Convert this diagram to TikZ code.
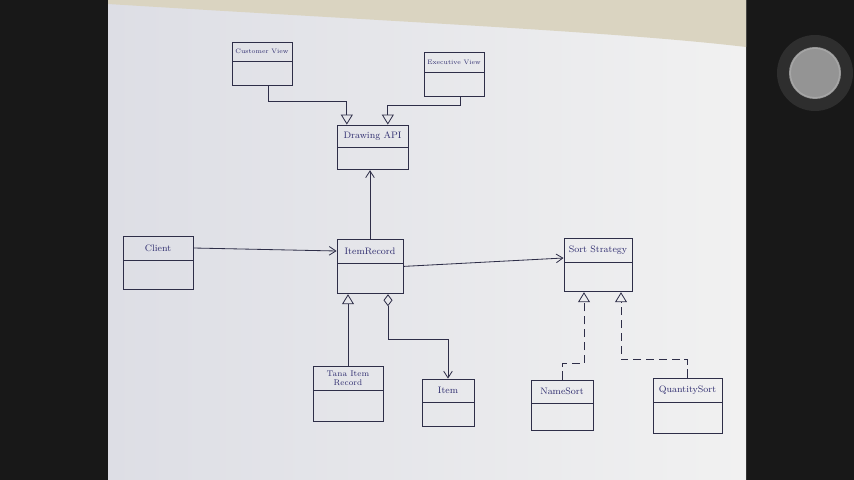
\documentclass[tikz,border=0pt]{standalone}
\usepackage{xcolor}
\usetikzlibrary{arrows.meta,positioning}

\definecolor{ink}{RGB}{48,46,112}
\definecolor{pen}{RGB}{46,46,72}
\definecolor{paperL}{RGB}{221,222,229}
\definecolor{paperR}{RGB}{241,241,241}
\definecolor{tape}{RGB}{218,212,193}
\definecolor{frame}{RGB}{24,24,24}

\begin{document}
\begin{tikzpicture}[
    x=0.03cm, y=-0.03cm,
    head/.style={rectangle, draw=pen, line width=0.7pt, inner sep=1pt, minimum height=0.72cm, text=ink, font=\footnotesize},
    body/.style={rectangle, draw=pen, line width=0.7pt, minimum height=0.87cm},
    assoc/.style={arrows={-Straight Barb[length=0.2cm,width=0.26cm]}, draw=pen, line width=0.7pt},
    inherit/.style={arrows={-Triangle[open,length=0.3cm,width=0.36cm]}, draw=pen, line width=0.7pt},
    realize/.style={inherit, dash pattern=on 7pt off 4pt},
    aggr/.style={arrows={Diamond[open,length=0.36cm,width=0.27cm]-Straight Barb[length=0.2cm,width=0.26cm]}, draw=pen, line width=0.7pt}
]
    % photo frame and paper
    \fill[frame] (0,0) rectangle (854,480);
    \shade[left color=paperL, right color=paperR] (108,0) rectangle (746,480);
    \fill[tape] (108,0) -- (746,0) -- (746,47) .. controls (620,32) and (400,22) .. (108,4) -- cycle;
    \fill[black!82] (815,73) circle[radius=1.14cm];
    \fill[black!42] (815,73) circle[radius=0.78cm];
    \draw[black!35, line width=1pt] (815,73) circle[radius=0.74cm];

    % classes
    \node[head, minimum width=1.8cm, minimum height=0.57cm, font=\fontsize{5.5}{6.5}\selectfont] (cust) at (262,51.5) {Customer View};
    \node[body, minimum width=1.8cm, minimum height=0.72cm, below=0pt of cust] (custb) {};
    \node[head, minimum width=1.8cm, minimum height=0.6cm, font=\fontsize{5.5}{6.5}\selectfont] (exec) at (454,62) {Executive View};
    \node[body, minimum width=1.8cm, minimum height=0.72cm, below=0pt of exec] (execb) {};
    \node[head, minimum width=2.13cm, minimum height=0.66cm] (api) at (372.5,136) {Drawing API};
    \node[body, minimum width=2.13cm, minimum height=0.66cm, below=0pt of api] (apib) {};

    \node[head, minimum width=2.1cm] (client) at (158,248) {Client};
    \node[body, minimum width=2.1cm, below=0pt of client] (clientb) {};
    \node[head, minimum width=1.98cm] (rec) at (370,251) {ItemRecord};
    \node[body, minimum width=1.98cm, minimum height=0.9cm, below=0pt of rec] (recb) {};
    \node[head, minimum width=2.04cm] (sort) at (598,250) {Sort Strategy};
    \node[body, minimum width=2.04cm, below=0pt of sort] (sortb) {};

    \node[head, minimum width=2.1cm, align=center, font=\scriptsize] (tana) at (348,378) {Tana Item\\Record};
    \node[body, minimum width=2.1cm, minimum height=0.93cm, below=0pt of tana] (tanab) {};
    \node[head, minimum width=1.56cm, minimum height=0.69cm] (item) at (448,390.5) {Item};
    \node[body, minimum width=1.56cm, minimum height=0.72cm, below=0pt of item] (itemb) {};
    \node[head, minimum width=1.86cm, minimum height=0.69cm] (name) at (562,391.5) {NameSort};
    \node[body, minimum width=1.86cm, minimum height=0.81cm, below=0pt of name] (nameb) {};
    \node[head, minimum width=2.07cm] (qty) at (687.5,390) {QuantitySort};
    \node[body, minimum width=2.07cm, minimum height=0.93cm, below=0pt of qty] (qtyb) {};

    % relations
    \draw[inherit] ([xshift=0.18cm]custb.south) -- ++(0,15) -| ([xshift=-0.77cm]api.north);
    \draw[inherit] ([xshift=0.18cm]execb.south) -- ++(0,8) -| ([xshift=0.46cm]api.north);
    \draw[assoc] (rec.north) -- (rec.north |- apib.south);
    \draw[assoc] (client.east) -- (rec.west);
    \draw[assoc] ([yshift=-0.09cm]rec.south east) -- ([yshift=-0.24cm]sort.west);
    \draw[inherit] (tana.north) -- (tana.north |- recb.south);
    \draw[aggr] ([xshift=0.54cm]recb.south) -- ++(0,45) -| (item.north);
    \draw[realize] (name.north) -- ++(0,-16) -| ([xshift=-0.42cm]sortb.south);
    \draw[realize] (qty.north) -- ++(0,-18) -| ([xshift=0.69cm]sortb.south);
\end{tikzpicture}
\end{document}
